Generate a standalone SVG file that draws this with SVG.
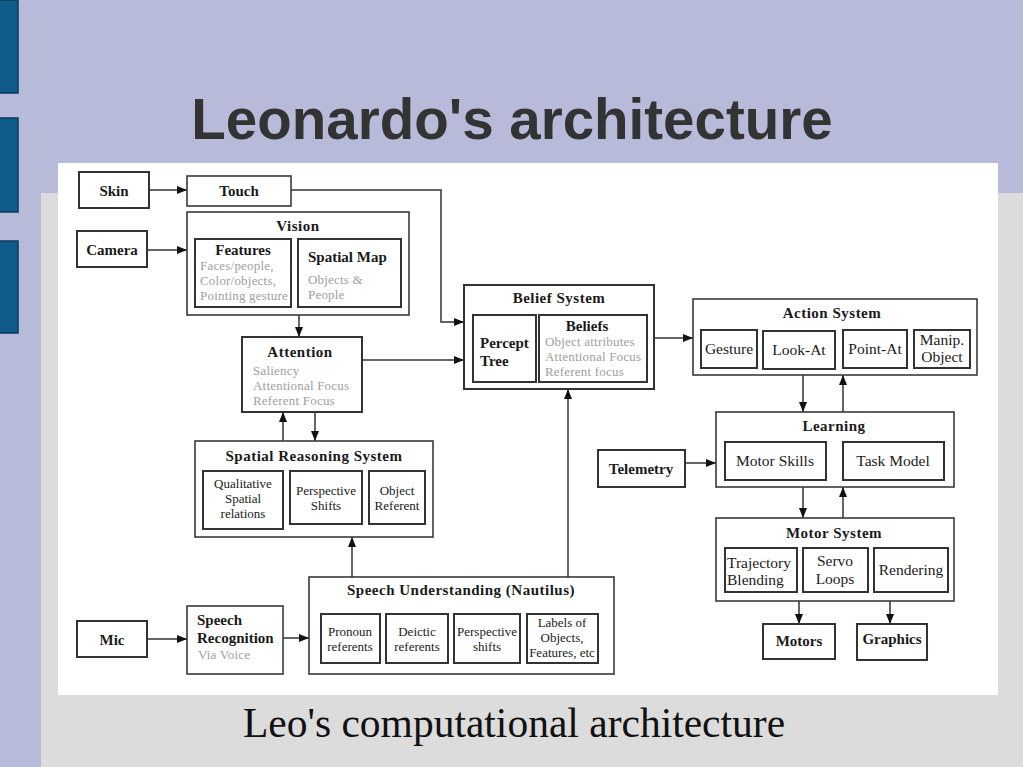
<svg xmlns="http://www.w3.org/2000/svg" width="1023" height="767" viewBox="0 0 1023 767">
<style>
.ob{fill:#fff;stroke:#3a3a3a;stroke-width:1.6}
.ib{fill:#fff;stroke:#333;stroke-width:2}
.t{font-family:"Liberation Serif","Times New Roman",serif;fill:#1a1a1a}
.tb{font-family:"Liberation Serif","Times New Roman",serif;font-weight:bold;fill:#1a1a1a;font-size:15px}
.hd{font-family:"Liberation Serif","Times New Roman",serif;font-weight:bold;fill:#1a1a1a;font-size:15px;letter-spacing:0.5px}
.g{font-family:"Liberation Serif","Times New Roman",serif;fill:#a0a0a0;font-size:13px;letter-spacing:0.2px}
.r{font-size:15.5px}
.s{font-size:13px}
.c{text-anchor:middle}
.ln{fill:none;stroke:#333;stroke-width:1.5}
.bar{fill:#0f5b8b;stroke:#0a3b5c;stroke-width:1.5}
</style>
<defs>
<marker id="ah" viewBox="0 0 10 10" refX="10" refY="5" markerWidth="10" markerHeight="10" markerUnits="userSpaceOnUse" orient="auto">
<path d="M0,1 L10,5 L0,9 z" fill="#111"/>
</marker>
</defs>
<rect x="0" y="0" width="1023" height="767" fill="#b7bbd9"/>
<rect x="41" y="193" width="982" height="574" fill="#dcdcdc"/>
<rect class="bar" x="-1" y="0" width="19" height="93"/>
<rect class="bar" x="-1" y="118" width="19" height="94"/>
<rect class="bar" x="-1" y="241" width="19" height="92"/>
<text x="512" y="139" text-anchor="middle" font-family="'Liberation Sans',Arial,sans-serif" font-weight="bold" font-size="56.5" fill="#333">Leonardo's architecture</text>
<rect x="58" y="163" width="940" height="532" fill="#fff"/>
<text x="514" y="737" text-anchor="middle" font-family="'Liberation Serif','Times New Roman',serif" font-size="41.5" fill="#111">Leo's computational architecture</text>

<g id="connectors">
<path class="ln" d="M149,190 H187" marker-end="url(#ah)"/>
<path class="ln" d="M291,190 H441 V322 H464" marker-end="url(#ah)"/>
<path class="ln" d="M147,250 H187" marker-end="url(#ah)"/>
<path class="ln" d="M299,315 V337" marker-end="url(#ah)"/>
<path class="ln" d="M362,360 H464" marker-end="url(#ah)"/>
<path class="ln" d="M283,441 V412" marker-end="url(#ah)"/>
<path class="ln" d="M315,412 V441" marker-end="url(#ah)"/>
<path class="ln" d="M352,577 V537" marker-end="url(#ah)"/>
<path class="ln" d="M568,577 V389" marker-end="url(#ah)"/>
<path class="ln" d="M654,338 H693" marker-end="url(#ah)"/>
<path class="ln" d="M803,375 V412" marker-end="url(#ah)"/>
<path class="ln" d="M843,412 V375" marker-end="url(#ah)"/>
<path class="ln" d="M685,463 H716" marker-end="url(#ah)"/>
<path class="ln" d="M803,487 V518" marker-end="url(#ah)"/>
<path class="ln" d="M843,518 V487" marker-end="url(#ah)"/>
<path class="ln" d="M799,601 V624" marker-end="url(#ah)"/>
<path class="ln" d="M890,601 V624" marker-end="url(#ah)"/>
<path class="ln" d="M147,639 H187" marker-end="url(#ah)"/>
<path class="ln" d="M283,638 H309" marker-end="url(#ah)"/>
</g>

<g id="skin">
<rect class="ib" x="79" y="172" width="70" height="36"/>
<text class="tb c" x="114" y="196">Skin</text>
</g>
<g id="touch">
<rect class="ob" x="187" y="176" width="104" height="30"/>
<text class="tb c" x="239" y="196">Touch</text>
</g>
<g id="camera">
<rect class="ib" x="77" y="231" width="70" height="36"/>
<text class="tb c" x="112" y="255">Camera</text>
</g>
<g id="vision">
<rect class="ob" x="187" y="212" width="222" height="103"/>
<text class="hd c" x="298" y="231">Vision</text>
<rect class="ib" x="195" y="239" width="96" height="68"/>
<text class="tb c" x="243" y="255">Features</text>
<text class="g" x="200" y="270">Faces/people,</text>
<text class="g" x="200" y="285">Color/objects,</text>
<text class="g" x="200" y="300">Pointing gesture</text>
<rect class="ib" x="298" y="239" width="103" height="68"/>
<text class="tb" x="308" y="262" font-size="16">Spatial Map</text>
<text class="g" x="308" y="284">Objects &amp;</text>
<text class="g" x="308" y="299">People</text>
</g>
<g id="attention">
<rect class="ib" x="242" y="337" width="120" height="75"/>
<text class="hd c" x="300" y="357">Attention</text>
<text class="g" x="253" y="375">Saliency</text>
<text class="g" x="253" y="390">Attentional Focus</text>
<text class="g" x="253" y="405">Referent Focus</text>
</g>
<g id="spatial-reasoning">
<rect class="ob" x="195" y="441" width="238" height="96"/>
<text class="hd c" x="314" y="461">Spatial Reasoning System</text>
<rect class="ib" x="203" y="471" width="80" height="58"/>
<text class="t s c" x="243" y="488">Qualitative</text>
<text class="t s c" x="243" y="503">Spatial</text>
<text class="t s c" x="243" y="518">relations</text>
<rect class="ib" x="290" y="471" width="72" height="53"/>
<text class="t s c" x="326" y="495">Perspective</text>
<text class="t s c" x="326" y="510">Shifts</text>
<rect class="ib" x="369" y="471" width="56" height="53"/>
<text class="t s c" x="397" y="495">Object</text>
<text class="t s c" x="397" y="510">Referent</text>
</g>
<g id="belief-system">
<rect class="ib" x="464" y="285" width="190" height="104"/>
<text class="hd c" x="559" y="303">Belief System</text>
<rect class="ib" x="473" y="315" width="63" height="67"/>
<text class="tb" x="480" y="348" font-size="15.5">Percept</text>
<text class="tb" x="480" y="366" font-size="15.5">Tree</text>
<rect class="ib" x="539" y="315" width="108" height="67"/>
<text class="tb c" x="587" y="331">Beliefs</text>
<text class="g" x="545" y="346">Object attributes</text>
<text class="g" x="545" y="361">Attentional Focus</text>
<text class="g" x="545" y="376">Referent focus</text>
</g>
<g id="action-system">
<rect class="ob" x="693" y="299" width="284" height="76"/>
<text class="hd c" x="832" y="318">Action System</text>
<rect class="ib" x="701" y="330" width="56" height="38"/>
<text class="t r c" x="729" y="354">Gesture</text>
<rect class="ib" x="763" y="331" width="72" height="38"/>
<text class="t r c" x="799" y="355">Look-At</text>
<rect class="ib" x="843" y="330" width="64" height="38"/>
<text class="t r c" x="875" y="354">Point-At</text>
<rect class="ib" x="914" y="330" width="56" height="38"/>
<text class="t r c" x="942" y="345">Manip.</text>
<text class="t r c" x="942" y="362">Object</text>
</g>
<g id="telemetry">
<rect class="ib" x="598" y="450" width="87" height="37"/>
<text class="tb c" x="641" y="474">Telemetry</text>
</g>
<g id="learning">
<rect class="ob" x="716" y="412" width="238" height="75"/>
<text class="hd c" x="834" y="431">Learning</text>
<rect class="ib" x="725" y="442" width="101" height="38"/>
<text class="t r c" x="775" y="466">Motor Skills</text>
<rect class="ib" x="843" y="442" width="101" height="38"/>
<text class="t r c" x="893" y="466">Task Model</text>
</g>
<g id="motor-system">
<rect class="ob" x="716" y="518" width="238" height="83"/>
<text class="hd c" x="834" y="538">Motor System</text>
<rect class="ib" x="725" y="548" width="72" height="44"/>
<text class="t r" x="727" y="568">Trajectory</text>
<text class="t r" x="727" y="585">Blending</text>
<rect class="ib" x="803" y="548" width="65" height="44"/>
<text class="t r c" x="835" y="566">Servo</text>
<text class="t r c" x="835" y="584">Loops</text>
<rect class="ib" x="874" y="548" width="74" height="44"/>
<text class="t r c" x="911" y="575">Rendering</text>
</g>
<g id="motors">
<rect class="ib" x="763" y="624" width="72" height="35"/>
<text class="tb c" x="799" y="646">Motors</text>
</g>
<g id="graphics">
<rect class="ib" x="857" y="624" width="70" height="36"/>
<text class="tb c" x="892" y="644">Graphics</text>
</g>
<g id="mic">
<rect class="ib" x="77" y="621" width="70" height="36"/>
<text class="tb c" x="112" y="645">Mic</text>
</g>
<g id="speech-recognition">
<rect class="ob" x="187" y="606" width="96" height="68"/>
<text class="tb" x="197" y="625" font-size="16">Speech</text>
<text class="tb" x="197" y="643" font-size="16">Recognition</text>
<text class="g" x="198" y="659">Via Voice</text>
</g>
<g id="speech-understanding">
<rect class="ob" x="309" y="577" width="305" height="97"/>
<text class="hd c" x="461" y="595">Speech Understanding (Nautilus)</text>
<rect class="ib" x="321" y="614" width="59" height="49"/>
<text class="t s c" x="350" y="636">Pronoun</text>
<text class="t s c" x="350" y="651">referents</text>
<rect class="ib" x="386" y="614" width="62" height="49"/>
<text class="t s c" x="417" y="636">Deictic</text>
<text class="t s c" x="417" y="651">referents</text>
<rect class="ib" x="454" y="614" width="66" height="49"/>
<text class="t s c" x="487" y="636">Perspective</text>
<text class="t s c" x="487" y="651">shifts</text>
<rect class="ib" x="527" y="614" width="71" height="49"/>
<text class="t s c" x="562" y="627">Labels of</text>
<text class="t s c" x="562" y="642">Objects,</text>
<text class="t s c" x="562" y="657">Features, etc</text>
</g>
</svg>
